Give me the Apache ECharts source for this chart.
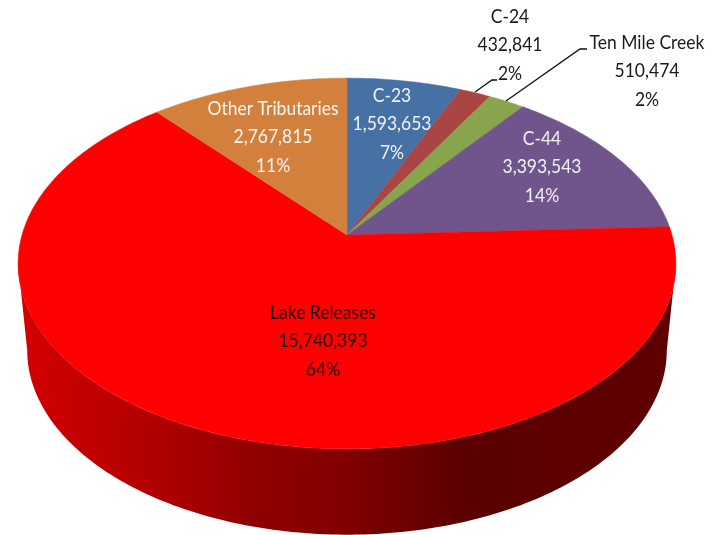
<!DOCTYPE html>
<html>
<head>
<meta charset="utf-8">
<style>
  html, body { margin: 0; padding: 0; background: #fff; }
  #chart { width: 721px; height: 535px; }
</style>
<script src="https://cdn.jsdelivr.net/npm/echarts@6/dist/echarts.min.js"></script>
</head>
<body>
<div id="chart"></div>
<script>
// slices clockwise from 12 o'clock
var sliceNames = ['C-23', 'C-24', 'Ten Mile Creek', 'C-44', 'Lake Releases', 'Other Tributaries']
var sliceValues = [1593653, 432841, 510474, 3393543, 15740393, 2767815]
var sliceColors = ['#4671a5', '#a94543', '#88a44d', '#70558c', '#ff0000', '#d2803c']
var labelColors = ['#f2f2f2', '#1a1a1a', '#1a1a1a', '#f2f2f2', '#1a0000', '#f7f7f7']

// label centre of each slice, same order as sliceNames
var labelCenters = [[392, 124], [510, 45], [647, 71], [542, 167], [323, 341], [273, 137]]
var leaderLines = [
  null,
  [[475, 92], [492, 80], [497, 80]],
  [[506, 101], [580, 49], [587, 49]],
  null, null, null
]

// the disc is a tilted circle, so it goes through a perspective map
var K = 0.1537
var topFace = { x: 347, y: 235, a: 325, b: 181 }
var bottomFace = { x: 347, y: 322, a: 316, b: 180 }
function project(face, deg) {
  var t = deg * Math.PI / 180
  var w = 1 + K * Math.cos(t)
  return [face.x + face.a * Math.sin(t) / w, face.y - face.b * Math.cos(t) / w]
}

var total = sliceValues.reduce(function (s, v) { return s + v }, 0)
var starts = []
var ends = []
var sum = 0
sliceValues.forEach(function (v, i) {
  starts[i] = sum / total * 360
  sum += v
  ends[i] = sum / total * 360
})

function arc(face, from, to) {
  var pts = []
  var n = Math.max(2, Math.ceil(Math.abs(to - from)))
  for (var i = 0; i <= n; i++) pts.push(project(face, from + (to - from) * i / n))
  return pts
}

// only the near side of the rim can be seen
var rimFrom = Math.acos(-K) * 180 / Math.PI
var rimTo = 360 - rimFrom

var rimGradient = new echarts.graphic.LinearGradient(0, 0, 1, 0, [
  { offset: 0, color: '#d60000' },
  { offset: 0.07, color: '#c80000' },
  { offset: 0.22, color: '#ae0000' },
  { offset: 0.35, color: '#920000' },
  { offset: 0.48, color: '#840000' },
  { offset: 0.6, color: '#6c0000' },
  { offset: 0.68, color: '#5a0000' },
  { offset: 1, color: '#600000' }
])

var chart = echarts.init(document.getElementById('chart'), null, { renderer: 'canvas' })
var rows = sliceNames.map(function (n, i) { return [i, sliceValues[i]] })

chart.setOption({
  animation: false,
  backgroundColor: '#fff',
  series: [
    {
      type: 'custom',
      coordinateSystem: 'none',
      silent: true,
      z: 1,
      data: rows,
      renderItem: function (params, api) {
        var i = api.value(0)
        var from = Math.max(starts[i], rimFrom)
        var to = Math.min(ends[i], rimTo)
        if (to <= from) return { type: 'group', children: [] }
        var pts = arc(topFace, from, to).concat(arc(bottomFace, to, from))
        return { type: 'polygon', shape: { points: pts }, style: { fill: rimGradient } }
      }
    },
    {
      type: 'custom',
      coordinateSystem: 'none',
      silent: true,
      z: 2,
      data: rows,
      renderItem: function (params, api) {
        var i = api.value(0)
        var pts = [[topFace.x, topFace.y]].concat(arc(topFace, starts[i], ends[i]))
        return {
          type: 'polygon',
          shape: { points: pts },
          style: { fill: sliceColors[i], stroke: sliceColors[i], lineWidth: 0.5 }
        }
      }
    },
    {
      type: 'custom',
      coordinateSystem: 'none',
      silent: true,
      z: 3,
      data: rows,
      renderItem: function (params, api) {
        var i = api.value(0)
        var pct = Math.round(sliceValues[i] / total * 100) + '%'
        var children = [{
          type: 'text',
          x: labelCenters[i][0],
          y: labelCenters[i][1],
          scaleY: 1.14,
          style: {
            text: sliceNames[i] + '\n' + sliceValues[i].toLocaleString('en-US') + '\n' + pct,
            fill: labelColors[i],
            font: '17.5px Lato',
            lineHeight: 25,
            align: 'center',
            verticalAlign: 'middle'
          }
        }]
        if (leaderLines[i]) {
          children.push({
            type: 'polyline',
            shape: { points: leaderLines[i] },
            style: { fill: 'none', stroke: '#111', lineWidth: 1.3 }
          })
        }
        return { type: 'group', children: children }
      }
    }
  ]
})
</script>
</body>
</html>
